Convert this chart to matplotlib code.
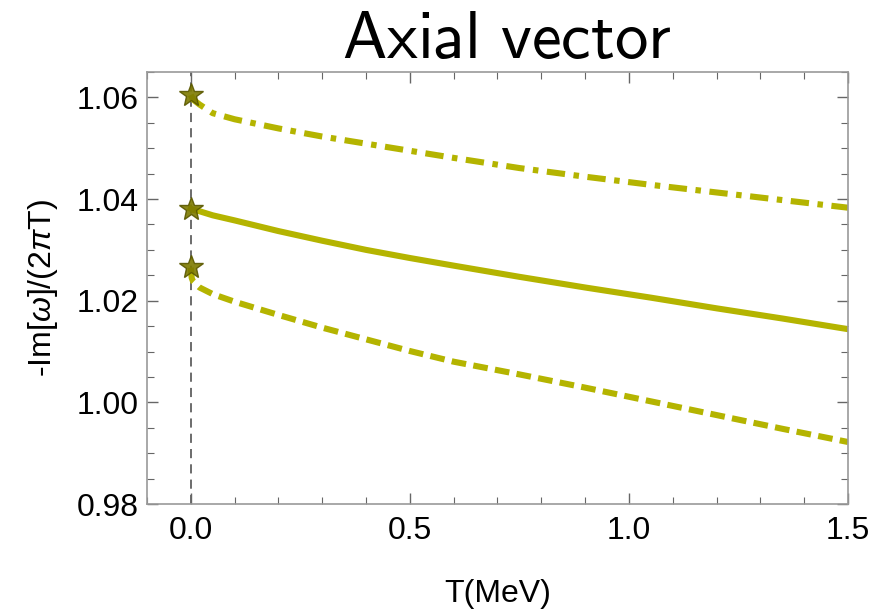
import matplotlib
matplotlib.use("Agg")
import matplotlib.pyplot as plt
from matplotlib.ticker import MultipleLocator

# temperature grid (MeV) and -Im[w]/(2 pi T) for the three branches
T = [0.0, 0.005, 0.02, 0.05, 0.1, 0.2, 0.3, 0.4, 0.5, 0.6, 0.75, 0.9, 1.05, 1.2, 1.35, 1.5]
upper = [1.0605, 1.0596, 1.0586, 1.0569, 1.0557, 1.0539, 1.0523, 1.0509, 1.0495,
         1.0481, 1.0461, 1.0444, 1.0428, 1.0413, 1.0398, 1.0383]
middle = [1.0381, 1.0379, 1.0376, 1.0368, 1.0358, 1.0337, 1.0318, 1.0300, 1.0284,
          1.0269, 1.0247, 1.0226, 1.0206, 1.0185, 1.0165, 1.0144]

T_low = [0.0, 0.002, 0.005, 0.02, 0.05, 0.1, 0.2, 0.3, 0.4, 0.5, 0.6, 0.75, 0.9,
         1.05, 1.2, 1.35, 1.5]
lower = [1.0265, 1.0245, 1.0238, 1.0226, 1.0213, 1.0198, 1.0172, 1.0147, 1.0124,
         1.0101, 1.0080, 1.0055, 1.0029, 1.0002, 0.9975, 0.9948, 0.9922]

# T = 0 values
star_T = [0.0, 0.0, 0.0]
star_vals = [1.0605, 1.0381, 1.0266]

LINE = "#b4b400"
STAR = "#7d7a00"
FRAME = "#9a9a9a"
FS = 23

plt.rcParams["font.family"] = ["Liberation Sans", "DejaVu Sans"]
plt.rcParams["mathtext.fontset"] = "custom"
plt.rcParams["mathtext.rm"] = "Liberation Sans"
plt.rcParams["mathtext.it"] = "Liberation Sans:italic"

fig = plt.figure(figsize=(8.79, 6.09), dpi=100)
ax = fig.add_axes([147 / 879, 1 - 504 / 609, 701 / 879, 432 / 609])

ax.axvline(0.0, color="#444444", lw=1.1, ls=(0, (6, 4)), zorder=1)

lw = 4.4
ax.plot(T, upper, color=LINE, lw=lw, ls=(0, (3.0, 1.4, 0.9, 1.4)), zorder=2)
ax.plot(T, middle, color=LINE, lw=lw, ls="-", zorder=2)
ax.plot(T_low, lower, color=LINE, lw=lw, ls=(0, (2.4, 1.2)), zorder=2)
ax.plot(star_T, star_vals, ls="none", marker="*", ms=18, mfc=STAR, mec="#5a5800",
        mew=1.0, alpha=0.9, zorder=3)

ax.set_xlim(-0.1, 1.5)
ax.set_ylim(0.98, 1.065)
ax.xaxis.set_major_locator(MultipleLocator(0.5))
ax.xaxis.set_minor_locator(MultipleLocator(0.1))
ax.yaxis.set_major_locator(MultipleLocator(0.02))
ax.yaxis.set_minor_locator(MultipleLocator(0.005))
ax.xaxis.set_major_formatter(lambda v, p: f"{v:.1f}")
ax.yaxis.set_major_formatter(lambda v, p: f"{v:.2f}")

for s in ax.spines.values():
    s.set_color(FRAME)
    s.set_linewidth(1.2)
ax.tick_params(which="both", direction="in", top=True, right=True, color="#666666",
               labelsize=FS, labelcolor="black")
ax.tick_params(which="major", length=8, width=1.0)
ax.tick_params(which="minor", length=5, width=0.8)
ax.tick_params(axis="x", which="major", pad=8.5)
ax.tick_params(axis="y", which="major", pad=5.8)

ax.set_xlabel("T(MeV)", fontsize=FS, labelpad=24)
ax.set_ylabel(r"-Im[$\omega$]/(2$\pi$T)", fontsize=FS, labelpad=12)

fig.text(507 / 879, 1 - 58 / 609, r"$\mathsf{Axial\ vector}$", fontsize=48,
         ha="center", va="baseline", math_fontfamily="cm")

fig.savefig("out.png", dpi=100, facecolor="white")
